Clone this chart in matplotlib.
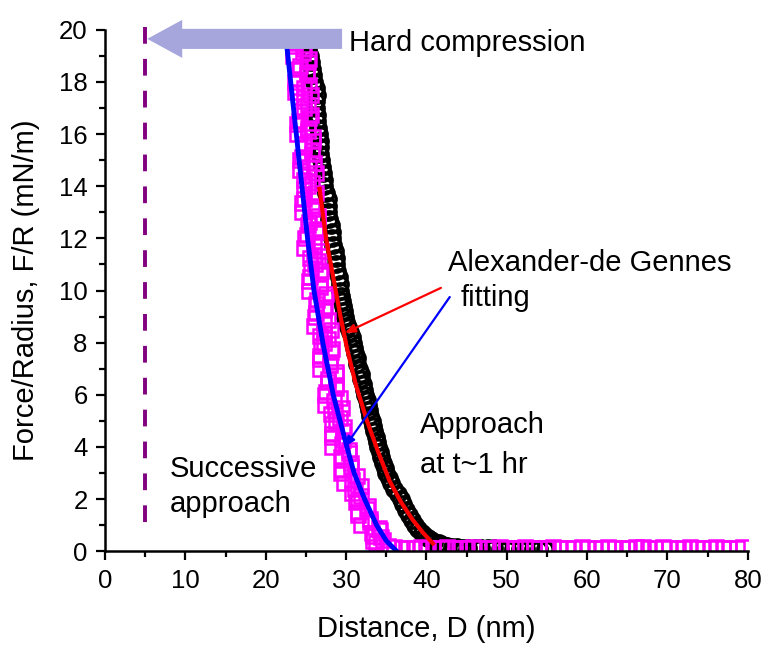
import matplotlib
matplotlib.use("Agg")
import matplotlib.pyplot as plt
from matplotlib.patches import FancyArrow
from matplotlib.ticker import MultipleLocator

plt.rcParams["font.family"] = ["Liberation Sans", "DejaVu Sans"]

# approach after ~1 hr (open circles)
approach_d = [24.8, 25.0, 25.2, 25.3, 25.5, 25.6, 25.8, 25.9, 26.0, 26.2,
              26.4, 26.3, 26.3, 26.4, 26.4, 26.5, 26.6, 26.7, 26.8, 26.8,
              26.9, 27.0, 27.1, 27.2, 27.3, 27.5, 27.8, 27.8, 27.8, 27.9,
              28.1, 28.2, 28.3, 28.4, 28.6, 28.7, 28.8, 28.9, 29.1, 29.2,
              29.3, 29.4, 29.5, 29.6, 29.7, 29.8, 30.0, 30.2, 30.5, 30.7,
              30.8, 31.0, 31.1, 31.3, 31.4, 31.6, 31.8, 31.9, 32.1, 32.2,
              32.4, 32.6, 32.7, 32.9, 33.0, 33.2, 33.4, 33.5, 33.7, 33.8,
              34.0, 34.2, 34.4, 34.6, 34.8, 35.0, 35.3, 35.6, 36.0, 36.4,
              36.8, 37.1, 37.4, 37.8, 38.2, 38.6, 39.0, 39.4, 39.8, 40.2,
              40.6, 41.0, 41.5, 42.0, 42.6, 43.2, 43.8, 44.5, 45.2, 46.0,
              46.8, 47.6, 48.4, 49.2, 50.0, 50.8, 51.6, 52.4, 53.2, 54.0,
              54.8]
approach_f = [20.0, 19.75, 19.5, 19.25, 19.0, 18.75, 18.5, 18.25, 18.0, 17.75,
              17.5, 17.25, 17.0, 16.75, 16.5, 16.25, 16.0, 15.75, 15.5, 15.25,
              15.0, 14.75, 14.5, 14.25, 14.0, 13.75, 13.5, 13.25, 13.0, 12.75,
              12.5, 12.25, 12.0, 11.75, 11.5, 11.25, 11.0, 10.75, 10.5, 10.25,
              10.0, 9.8, 9.6, 9.4, 9.2, 9.0, 8.8, 8.6, 8.4, 8.2,
              8.0, 7.8, 7.6, 7.4, 7.2, 7.0, 6.8, 6.6, 6.4, 6.2,
              6.0, 5.8, 5.6, 5.4, 5.2, 5.0, 4.8, 4.6, 4.4, 4.2,
              4.0, 3.8, 3.6, 3.4, 3.2, 3.0, 2.8, 2.6, 2.4, 2.2,
              2.0, 1.8, 1.6, 1.4, 1.2, 1.0, 0.85, 0.7, 0.6, 0.5,
              0.42, 0.36, 0.3, 0.25, 0.2, 0.17, 0.15, 0.13, 0.12, 0.12,
              0.11, 0.11, 0.11, 0.1, 0.1, 0.1, 0.1, 0.1, 0.1, 0.1,
              0.1]

# successive approach (open squares)
successive_d = [24.2, 25.0, 23.6, 24.7, 23.4, 25.3, 24.1, 25.1, 23.7, 24.8,
                25.6, 24.2, 24.7, 25.6, 24.1, 25.3, 23.9, 25.9, 24.7, 25.7,
                24.3, 25.4, 26.2, 24.8, 25.3, 26.2, 24.7, 25.9, 24.5, 26.5,
                25.3, 26.3, 24.9, 26.0, 26.9, 25.5, 26.1, 26.9, 25.5, 26.7,
                25.4, 27.4, 26.3, 27.3, 26.1, 27.2, 28.1, 26.7, 27.3, 28.2,
                26.8, 28.0, 26.8, 28.8, 27.7, 28.7, 27.4, 28.5, 29.5, 28.1,
                28.8, 29.7, 28.3, 29.6, 28.3, 30.4, 29.5, 30.6, 29.4, 30.7,
                31.9, 30.7, 31.5, 32.7, 31.5, 33.0, 31.9, 34.2, 33.3, 34.6,
                33.7, 35.2,
                23.7, 24.9, 23.4, 24.6, 25.4, 24.2, 25.1, 23.9, 25.4, 23.6,
                24.7, 25.2, 24.2, 25.4, 23.9, 25.2, 25.9, 24.8, 25.7, 24.5,
                26.0, 24.2, 25.3, 25.8, 24.8, 26.0, 24.5, 25.8, 26.5, 25.4,
                26.3, 25.1, 26.6, 24.8, 26.0, 26.5, 25.6, 26.8, 25.4, 26.7,
                27.5, 26.4, 27.4, 26.2, 27.8, 26.0, 27.2, 27.7, 26.9, 28.1,
                26.7, 28.0, 28.8, 27.7, 28.7, 27.5, 29.2, 27.4, 28.6, 29.2,
                28.3, 29.6, 28.2, 29.5, 30.4, 29.4, 30.6, 29.5, 31.3, 29.7,
                31.1, 31.8, 31.2, 32.6, 31.5, 33.0, 34.1, 33.2, 34.4, 33.4,
                36.0, 36.9, 37.5, 38.4, 39.3, 40.0, 40.8, 41.9,
                42.6, 43.5, 44.1, 45.0, 45.8, 46.5, 47.6, 48.2, 49.1, 49.9,
                51.0, 51.6, 52.3, 53.4, 54.0, 55.1, 55.8, 56.6, 57.5, 58.3,
                59.4, 60.1, 61.0, 61.7, 62.6, 63.5, 64.4, 65.0, 66.1, 67.0,
                67.6, 68.5, 69.4, 70.2, 71.3, 72.0, 72.8, 73.7, 74.4, 75.3,
                76.1, 76.9, 77.7, 78.6, 79.4]
successive_f = [20.0, 19.75, 19.5, 19.25, 19.0, 18.75, 18.5, 18.25, 18.0, 17.75,
                17.5, 17.25, 17.0, 16.75, 16.5, 16.25, 16.0, 15.75, 15.5, 15.25,
                15.0, 14.75, 14.5, 14.25, 14.0, 13.75, 13.5, 13.25, 13.0, 12.75,
                12.5, 12.25, 12.0, 11.75, 11.5, 11.25, 11.0, 10.75, 10.5, 10.25,
                10.0, 9.75, 9.5, 9.25, 9.0, 8.75, 8.5, 8.25, 8.0, 7.75,
                7.5, 7.25, 7.0, 6.75, 6.5, 6.25, 6.0, 5.75, 5.5, 5.25,
                5.0, 4.75, 4.5, 4.25, 4.0, 3.75, 3.5, 3.25, 3.0, 2.75,
                2.5, 2.25, 2.0, 1.75, 1.5, 1.25, 1.0, 0.8, 0.6, 0.45,
                0.3, 0.2,
                19.875, 19.625, 19.375, 19.125, 18.875, 18.625, 18.375, 18.125, 17.875, 17.625,
                17.375, 17.125, 16.875, 16.625, 16.375, 16.125, 15.875, 15.625, 15.375, 15.125,
                14.875, 14.625, 14.375, 14.125, 13.875, 13.625, 13.375, 13.125, 12.875, 12.625,
                12.375, 12.125, 11.875, 11.625, 11.375, 11.125, 10.875, 10.625, 10.375, 10.125,
                9.875, 9.625, 9.375, 9.125, 8.875, 8.625, 8.375, 8.125, 7.875, 7.625,
                7.375, 7.125, 6.875, 6.625, 6.375, 6.125, 5.875, 5.625, 5.375, 5.125,
                4.875, 4.625, 4.375, 4.125, 3.875, 3.625, 3.375, 3.125, 2.875, 2.625,
                2.375, 2.125, 1.875, 1.625, 1.375, 1.125, 0.9, 0.7, 0.55, 0.4,
                0.15, 0.12, 0.14, 0.13, 0.15, 0.12, 0.14, 0.13,
                0.15, 0.12, 0.14, 0.13, 0.16, 0.12, 0.14, 0.13, 0.15, 0.12,
                0.14, 0.13, 0.15, 0.12, 0.14, 0.13, 0.15, 0.12, 0.14, 0.13,
                0.15, 0.12, 0.14, 0.13, 0.15, 0.12, 0.14, 0.13, 0.15, 0.18,
                0.14, 0.13, 0.15, 0.12, 0.14, 0.13, 0.15, 0.12, 0.14, 0.13,
                0.15, 0.12, 0.14, 0.13, 0.15]

# Alexander-de Gennes fits
fit_approach_d = [26.7, 27.5, 28.4, 29.3, 30.1, 31.2, 32.6, 34.0, 35.4, 36.8,
                  38.3, 39.6, 40.8]
fit_approach_f = [13.9, 12.0, 10.5, 9.0, 7.8, 6.4, 5.0, 3.8, 2.7, 1.9,
                  1.2, 0.7, 0.3]
fit_successive_d = [22.4, 23.1, 23.8, 24.5, 25.2, 26.0, 27.1, 28.4, 30.1, 31.0,
                    32.3, 33.8, 35.0, 36.3]
fit_successive_f = [20.0, 18.0, 16.0, 14.0, 12.0, 10.0, 8.0, 6.0, 4.0, 3.0,
                    2.0, 1.0, 0.4, 0.0]

HARD_WALL_D = 5


def main() -> None:
    fig = plt.figure(figsize=(7.67, 6.47), dpi=100)
    ax = fig.add_axes([0.137, 0.148, 0.838, 0.806])

    # hard-wall marker, dashes run from the top down
    ax.plot([HARD_WALL_D, HARD_WALL_D], [20.1, 0.7], color="#800080", lw=2.8,
            ls=(0, (4.3, 3.9)), clip_on=False)

    ax.plot(approach_d, approach_f, ls="none", marker="o", ms=11,
            mfc="none", mec="black", mew=2.5)
    ax.plot(successive_d, successive_f, ls="none", marker="s", ms=9.5,
            mfc="none", mec="#ff00ff", mew=1.8)
    ax.plot(fit_successive_d, fit_successive_f, color="#0000ff", lw=3.5)
    ax.plot(fit_approach_d, fit_approach_f, color="#ff0000", lw=3.0)

    ax.add_patch(FancyArrow(29.5, 19.65, -24.25, 0, width=0.77,
                            head_width=1.46, head_length=4.35,
                            length_includes_head=True, color="#a6a6dd",
                            lw=0, clip_on=False, zorder=5))
    ax.text(30.3, 19.5, "Hard compression", fontsize=21, va="center")

    ax.annotate("", xy=(29.85, 8.37), xytext=(41.8, 10.1),
                arrowprops=dict(arrowstyle="-|>,head_length=0.6,head_width=0.25",
                                color="#ff0000", lw=1.6, shrinkA=0, shrinkB=0))
    ax.annotate("", xy=(29.85, 4.0), xytext=(42.9, 9.75),
                arrowprops=dict(arrowstyle="-|>,head_length=0.6,head_width=0.25",
                                color="#0000ff", lw=1.6, shrinkA=0, shrinkB=0))
    ax.text(42.7, 11.05, "Alexander-de Gennes", fontsize=21, va="center")
    ax.text(44.2, 9.7, "fitting", fontsize=21, va="center")
    ax.text(39.2, 4.84, "Approach", fontsize=21, va="center")
    ax.text(39.2, 3.3, "at t~1 hr", fontsize=21, va="center")
    ax.text(8.1, 3.15, "Successive", fontsize=21, va="center")
    ax.text(8.1, 1.8, "approach", fontsize=21, va="center")

    ax.set_xlim(0, 80)
    ax.set_ylim(0, 20)
    ax.xaxis.set_major_locator(MultipleLocator(10))
    ax.xaxis.set_minor_locator(MultipleLocator(5))
    ax.yaxis.set_major_locator(MultipleLocator(2))
    ax.yaxis.set_minor_locator(MultipleLocator(1))
    ax.tick_params(which="both", direction="out", width=1.6, labelsize=18.5)
    ax.tick_params(which="major", length=6.5)
    ax.tick_params(which="minor", length=4.3)
    ax.tick_params(axis="y", which="major", pad=6)
    ax.tick_params(axis="x", which="major", pad=6)
    for side in ("top", "right"):
        ax.spines[side].set_visible(False)
    for side in ("left", "bottom"):
        ax.spines[side].set_linewidth(1.8)
    ax.set_xlabel("Distance, D (nm)", fontsize=21, labelpad=16)
    ax.set_ylabel("Force/Radius, F/R (mN/m)", fontsize=21, labelpad=14)

    fig.savefig("out.png", dpi=100)
    plt.close(fig)


if __name__ == "__main__":
    main()
